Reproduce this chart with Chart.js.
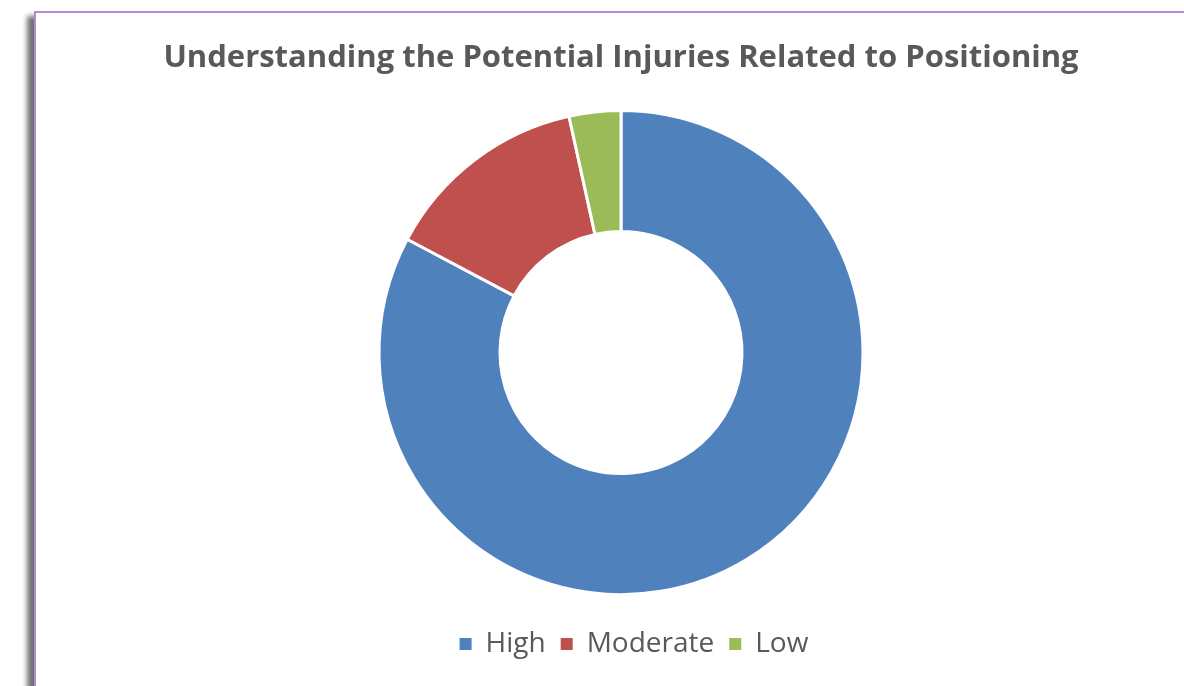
<!DOCTYPE html>
<html>
<head>
<meta charset="utf-8">
<script src="https://cdn.jsdelivr.net/npm/chart.js@4"></script>
<style>
    html, body { margin: 0; padding: 0; background: #fff; overflow: hidden; }
    #frame {
        position: absolute; left: 34px; top: 11px; width: 1200px; height: 720px;
        border-left: 2px solid #b28bd6; border-top: 2px solid #b28bd6;
        box-shadow: -7px 5px 5px rgba(0,0,0,0.55);
        background: #fff;
    }
    #wrap { position: absolute; left: 0; top: 0; width: 1184px; height: 668px; }
</style>
</head>
<body>
<div id="frame"></div>
<div id="wrap"><canvas id="donnutChart" width="1184" height="668"></canvas></div>
<script>
const labels = ['High', 'Moderate', 'Low'];
const counts = [24, 4, 1];
const colors = ['#4f81bd', '#c0504d', '#9bbb59'];

document.addEventListener("DOMContentLoaded", function () {
    const ctx = document.getElementById('donnutChart').getContext('2d');
    const baseLabels = Chart.overrides.doughnut.plugins.legend.labels.generateLabels;

    new Chart(ctx, {
        type: 'doughnut',
        data: {
            labels: labels,
            datasets: [{
                data: counts,
                backgroundColor: colors,
                borderColor: '#ffffff',
                borderWidth: 3
            }]
        },
        options: {
            responsive: false,
            animation: false,
            radius: 242,
            cutout: '50%',
            layout: { padding: { left: 58, right: 0, top: 0, bottom: 0 } },
            plugins: {
                title: {
                    display: true,
                    text: 'Understanding the Potential Injuries Related to Positioning',
                    color: '#595959',
                    font: { family: 'Open Sans', size: 31, weight: 'bold' },
                    padding: { top: 40, bottom: 13 }
                },
                legend: {
                    position: 'bottom',
                    labels: {
                        color: '#595959',
                        font: { family: 'Open Sans', size: 28 },
                        boxWidth: 12,
                        boxHeight: 12,
                        padding: 15,
                        // legend squares without the white slice border
                        generateLabels: function (chart) {
                            return baseLabels(chart).map(item => Object.assign(item, { lineWidth: 0 }));
                        }
                    }
                },
                tooltip: { enabled: false }
            }
        },
        plugins: [{
            id: 'legendNudge',
            afterLayout: function (chart) {
                // the legend in the original sits a little right of the ring centre
                chart.legend.left += 13;
                chart.legend.right += 13;
            }
        }]
    });
});
</script>
</body>
</html>
